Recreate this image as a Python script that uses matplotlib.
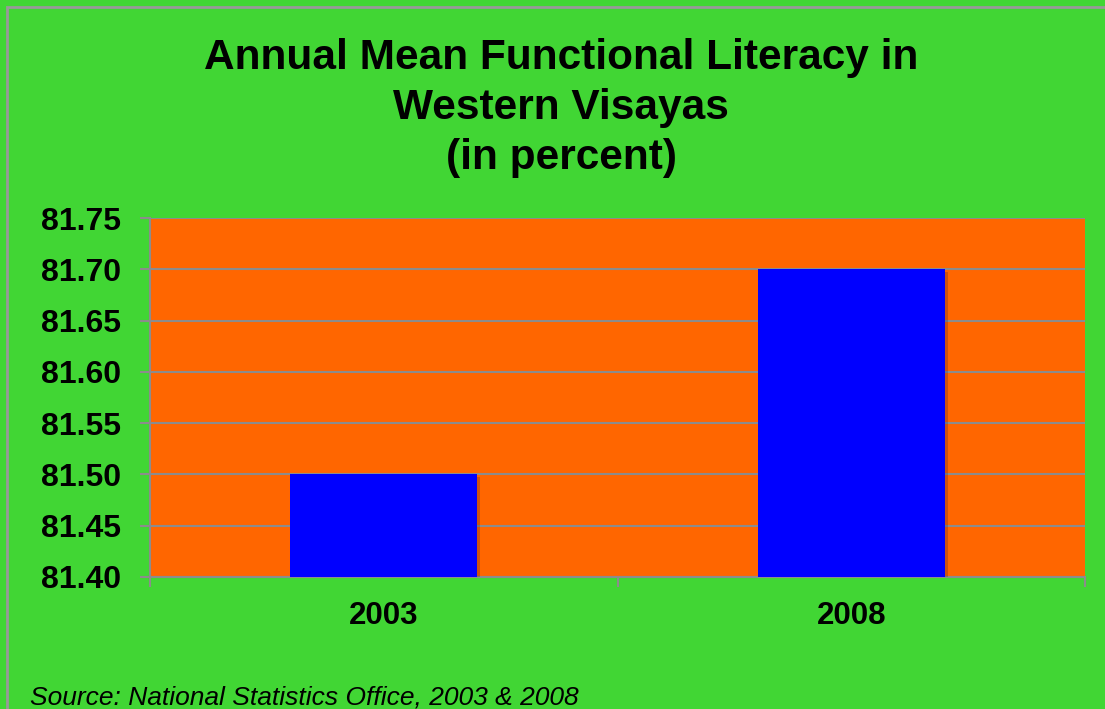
import matplotlib
matplotlib.use('Agg')
import matplotlib.pyplot as plt
import matplotlib.patheffects as pe
from matplotlib.patches import Rectangle

#Data
years = ['2003', '2008']
literacy = [81.50, 81.70]
yticks = [81.40, 81.45, 81.50, 81.55, 81.60, 81.65, 81.70, 81.75]

plt.rcParams['font.family'] = ['Liberation Sans', 'DejaVu Sans']

green = '#41d634'
orange = '#ff6600'
blue = '#0000ff'
gray = '#8c8c8c'

fig = plt.figure(figsize=(11.05, 7.09), dpi=100, facecolor=green)
ax = fig.add_axes([150/1105, 1-577/709, 935/1105, (577-218)/709])
ax.set_facecolor(orange)

#Bars with a soft shadow
x = range(len(years))
bars = ax.bar(x, literacy, width=0.4, color=blue, zorder=3)
for b in bars:
    b.set_path_effects([pe.SimplePatchShadow(offset=(2, -2), alpha=0.2), pe.Normal()])

ax.set_xlim(-0.5, 1.5)
ax.set_ylim(81.40, 81.75)
ax.set_yticks(yticks)
ax.set_yticklabels(['%.2f' % v for v in yticks])
ax.set_xticks(list(x))
ax.set_xticklabels(years)
ax.set_xticks([-0.5, 0.5, 1.5], minor=True)

ax.grid(axis='y', color=gray, linewidth=1.5, zorder=1)
ax.set_axisbelow(True)

for s in ['top', 'right']:
    ax.spines[s].set_visible(False)
for s in ['left', 'bottom']:
    ax.spines[s].set_color(gray)
    ax.spines[s].set_linewidth(1.5)

ax.tick_params(axis='y', colors=gray, length=7, width=1.5, pad=14, labelsize=23, labelcolor='black')
ax.tick_params(axis='x', which='major', length=0, pad=17, labelsize=22.5, labelcolor='black')
ax.tick_params(axis='x', which='minor', colors=gray, length=7, width=1.5)
for lab in ax.get_yticklabels() + ax.get_xticklabels():
    lab.set_fontweight('bold')

#Title
fig.text(0.508, 1-108/709, 'Annual Mean Functional Literacy in\nWestern Visayas\n(in percent)',
         ha='center', va='center', fontsize=30.5, fontweight='bold', linespacing=1.32)

#Source note
fig.text(30/1105, 1-698/709, 'Source: National Statistics Office, 2003 & 2008',
         ha='left', va='center', fontsize=19, style='italic')

#Outer border
fig.patches.append(Rectangle((7/1105, -0.1), 1.2, 1-7/709+0.1, transform=fig.transFigure,
                             fill=False, edgecolor='#999999', linewidth=2))

plt.savefig('out.png', dpi=100, facecolor=green)
